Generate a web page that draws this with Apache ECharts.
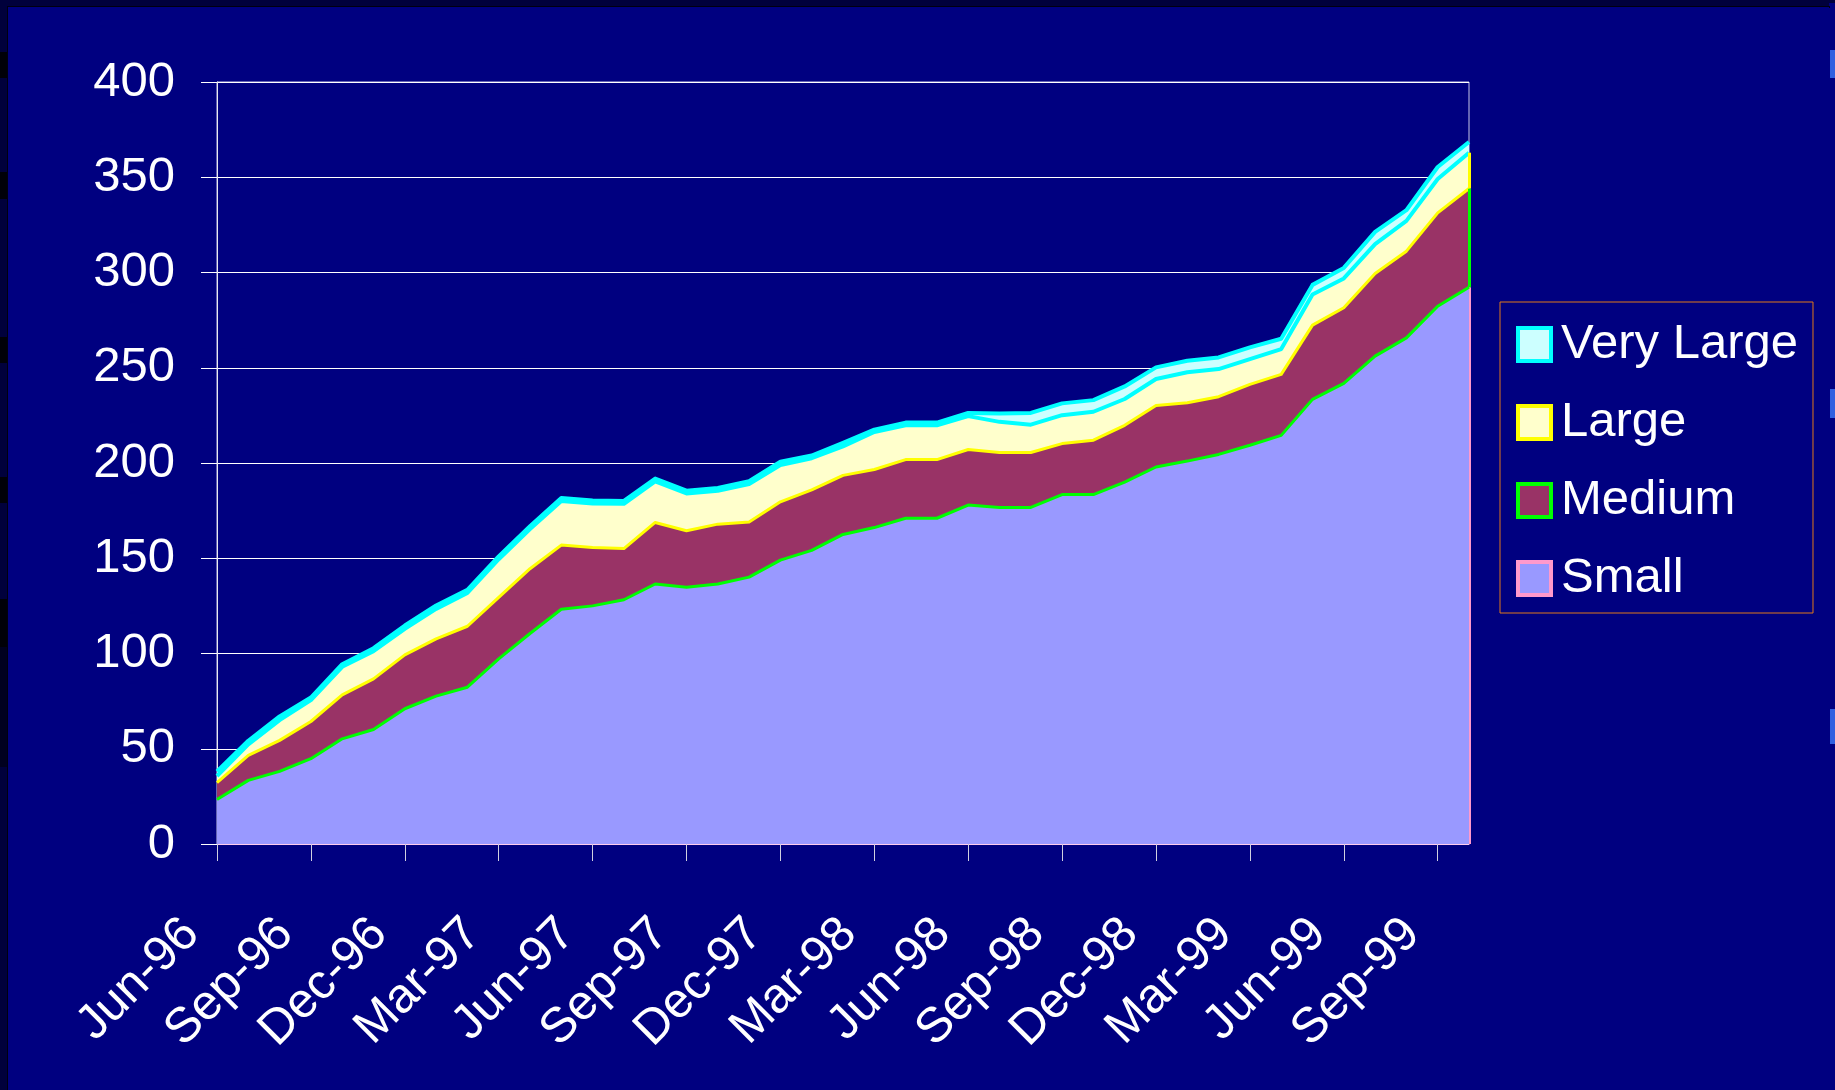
<!DOCTYPE html>
<html>
<head>
<meta charset="utf-8">
<title>Stacked area - size classes</title>
<script src="https://cdn.jsdelivr.net/npm/echarts@6/dist/echarts.min.js"></script>
<style>
    html, body {
        margin: 0;
        padding: 0;
        width: 1835px;
        height: 1090px;
        overflow: hidden;
        background: #00003c;
    }
    #right_strip {
        position: absolute;
        left: 1829px;
        top: 0;
        width: 6px;
        height: 1090px;
        background: #000080;
        border-top: 3px solid #00003c;
    }
    #frame {
        position: absolute;
        left: 7px;
        top: 6px;
        width: 1823px;
        height: 1084px;
        border-left: 1px solid #000010;
        border-top: 1px solid #000010;
        border-right: 1px solid #000010;
        box-sizing: border-box;
        background: #000080;
    }
    #area_stacked {
        position: absolute;
        left: 1px;
        top: 1px;
        width: 1821px;
        height: 1083px;
    }
    .mark {
        position: absolute;
    }
</style>
</head>
<body>
<div id="right_strip"></div>
<div class="mark" style="left:0;top:52px;width:7px;height:26px;background:#000008"></div>
<div class="mark" style="left:0;top:172px;width:7px;height:27px;background:#000008"></div>
<div class="mark" style="left:0;top:337px;width:7px;height:26px;background:#000008"></div>
<div class="mark" style="left:0;top:477px;width:7px;height:26px;background:#000008"></div>
<div class="mark" style="left:0;top:599px;width:7px;height:48px;background:#000008"></div>
<div class="mark" style="left:0;top:647px;width:7px;height:120px;background:#000020"></div>
<div class="mark" style="left:1830px;top:50px;width:5px;height:28px;background:#3060e0"></div>
<div class="mark" style="left:1830px;top:389px;width:5px;height:29px;background:#3060e0"></div>
<div class="mark" style="left:1830px;top:709px;width:5px;height:35px;background:#3060e0"></div>
<div id="frame"><div id="area_stacked"></div></div>

<script>
// Data
// ------------------------------

var months = [
    'Jun-96', 'Jul-96', 'Aug-96', 'Sep-96', 'Oct-96', 'Nov-96', 'Dec-96',
    'Jan-97', 'Feb-97', 'Mar-97', 'Apr-97', 'May-97', 'Jun-97', 'Jul-97',
    'Aug-97', 'Sep-97', 'Oct-97', 'Nov-97', 'Dec-97', 'Jan-98', 'Feb-98',
    'Mar-98', 'Apr-98', 'May-98', 'Jun-98', 'Jul-98', 'Aug-98', 'Sep-98',
    'Oct-98', 'Nov-98', 'Dec-98', 'Jan-99', 'Feb-99', 'Mar-99', 'Apr-99',
    'May-99', 'Jun-99', 'Jul-99', 'Aug-99', 'Sep-99', 'Oct-99'
];

var small = [
    23.4, 33.4, 38.1, 44.8, 55.2, 60.1, 71.0, 77.6, 82.3, 97.2,
    110.5, 123.2, 125.0, 128.2, 136.5, 134.8, 136.5, 140.1, 149.0, 154.1,
    162.5, 166.1, 171.0, 171.0, 177.9, 176.7, 176.7, 183.4, 183.4, 190.0,
    197.9, 201.0, 204.5, 209.3, 214.5, 233.4, 241.8, 256.1, 265.7, 282.3,
    292.3
];

var medium = [
    8.8, 13.1, 16.3, 19.5, 23.1, 26.6, 28.3, 30.1, 32.0, 32.3,
    34.0, 33.7, 30.7, 26.9, 32.3, 29.6, 31.4, 28.9, 30.6, 31.8,
    31.0, 30.5, 30.8, 30.8, 29.2, 28.8, 28.8, 26.8, 28.6, 29.8,
    32.3, 30.6, 30.3, 32.0, 32.0, 39.0, 39.7, 43.4, 45.5, 49.0,
    51.8
];

var large = [
    3.5, 5.8, 10.6, 11.2, 14.7, 14.5, 13.6, 15.7, 17.5, 20.0,
    20.8, 23.2, 23.1, 23.5, 21.5, 19.6, 17.5, 19.9, 19.3, 16.6,
    15.2, 19.7, 18.0, 18.0, 17.5, 16.1, 14.6, 14.9, 14.9, 13.8,
    13.9, 16.0, 14.5, 13.2, 13.3, 16.0, 15.4, 15.4, 15.9, 17.8,
    18.8
];

var veryLarge = [
    2.4, 1.9, 2.0, 1.4, 1.4, 1.6, 1.8, 1.8, 1.6, 1.5,
    1.5, 1.5, 1.5, 1.5, 1.5, 1.5, 1.5, 1.5, 1.8, 1.4,
    1.9, 1.2, 1.4, 1.4, 1.7, 4.4, 6.2, 6.2, 6.1, 6.6,
    6.1, 6.1, 6.1, 6.2, 5.4, 5.1, 5.5, 6.4, 5.6, 6.3,
    5.6
];

var seriesNames = ['Small', 'Medium', 'Large', 'Very Large'];
var yTicks = { min: 0, max: 400, interval: 50 };


// Setup module
// ------------------------------

var EchartsAreaStacked = function() {

    var fontFamily = '"Liberation Sans", Arial, Helvetica, sans-serif';

    // fill, outline (legend / right edge) and the line drawn at the top of each band
    var looks = {
        'Small':      { fill: '#9999ff', border: '#ff99cc', line: '#00ff00', width: 3, z: 5 },
        'Medium':     { fill: '#993366', border: '#00ff00', line: '#ffff00', width: 3, z: 4 },
        'Large':      { fill: '#ffffcc', border: '#ffff00', line: '#00ffff', width: 4, z: 3 },
        'Very Large': { fill: '#ccffff', border: '#00ffff', line: '#00ffff', width: 4, z: 2 }
    };
    var values = {
        'Small': small,
        'Medium': medium,
        'Large': large,
        'Very Large': veryLarge
    };

    var _areaStacked = function() {
        if (typeof echarts == 'undefined') {
            console.warn('Warning - echarts.min.js is not loaded.');
            return;
        }

        var element = document.getElementById('area_stacked');
        if (!element) {
            return;
        }

        var chart = echarts.init(element);

        var last = months.length - 1;
        var base = 0;

        var series = seriesNames.map(function(name) {
            var look = looks[name];
            var low = base;
            var high = base + values[name][last];
            base = high;

            var item = {
                name: name,
                type: 'line',
                stack: 'total',
                data: values[name],
                symbol: 'none',
                showSymbol: false,
                z: look.z,
                lineStyle: {
                    color: look.line,
                    width: look.width,
                    join: 'round'
                },
                itemStyle: {
                    color: look.fill
                },
                areaStyle: {
                    color: look.fill,
                    opacity: 1
                }
            };

            // outline of the band at the right edge of the plot
            if (name !== 'Very Large') {
                item.markLine = {
                    silent: true,
                    symbol: 'none',
                    label: { show: false },
                    lineStyle: {
                        color: look.border,
                        width: 3,
                        type: 'solid'
                    },
                    data: [[
                        { coord: [months[last], low] },
                        { coord: [months[last], high] }
                    ]]
                };
            }
            return item;
        });

        // legend lists the top band first
        var legendData = seriesNames.slice().reverse().map(function(name) {
            var look = looks[name];
            return {
                name: name,
                icon: 'rect',
                itemStyle: {
                    color: look.fill,
                    borderColor: look.border,
                    borderWidth: 4
                }
            };
        });

        chart.setOption({
            animation: false,
            backgroundColor: '#000080',
            textStyle: {
                fontFamily: fontFamily
            },

            grid: {
                left: 208,
                top: 74,
                right: 361,
                bottom: 247,
                show: true,
                borderColor: '#c8c8e8',
                borderWidth: 1,
                containLabel: false
            },

            legend: {
                orient: 'vertical',
                left: 1491,
                top: 294,
                data: legendData,
                itemWidth: 33,
                itemHeight: 33,
                itemGap: 29,
                padding: [18, 15, 10, 16],
                borderColor: '#e07818',
                borderWidth: 1,
                selectedMode: false,
                textStyle: {
                    color: '#ffffff',
                    fontSize: 49,
                    lineHeight: 49,
                    fontFamily: fontFamily,
                    padding: [0, 0, 0, 5]
                }
            },

            xAxis: {
                type: 'category',
                boundaryGap: false,
                data: months,
                axisLine: {
                    lineStyle: { color: '#ffccee', width: 1 }
                },
                axisTick: {
                    interval: 2,
                    length: 17,
                    lineStyle: { color: '#d0d0e0' }
                },
                axisLabel: {
                    interval: 2,
                    rotate: 45,
                    margin: 57,
                    color: '#ffffff',
                    fontSize: 49,
                    fontFamily: fontFamily,
                    padding: [0, 36, 0, 0]
                },
                splitLine: { show: false }
            },

            yAxis: {
                type: 'value',
                min: yTicks.min,
                max: yTicks.max,
                interval: yTicks.interval,
                axisLine: {
                    show: true,
                    lineStyle: { color: '#e8e8f0', width: 1 }
                },
                axisTick: {
                    show: true,
                    length: 16,
                    lineStyle: { color: '#ffffff' }
                },
                axisLabel: {
                    margin: 42,
                    color: '#ffffff',
                    fontSize: 49,
                    fontFamily: fontFamily
                },
                splitLine: {
                    lineStyle: { color: '#ffffff', width: 1 }
                }
            },

            series: series
        });
    };

    return {
        init: function() {
            _areaStacked();
        }
    };
}();


// Initialize module
// ------------------------------

document.addEventListener('DOMContentLoaded', function() {
    EchartsAreaStacked.init();
});
</script>
</body>
</html>
